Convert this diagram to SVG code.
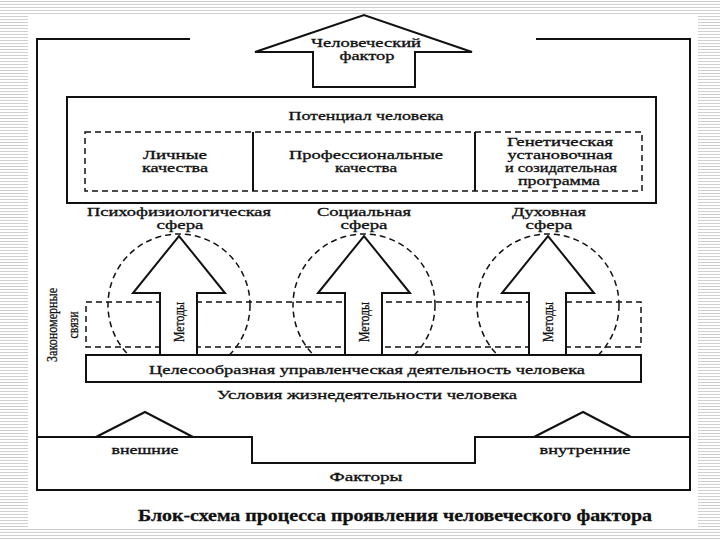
<svg xmlns="http://www.w3.org/2000/svg" width="720" height="540" viewBox="0 0 720 540">
<defs>
<pattern id="bg" width="6" height="3" patternUnits="userSpaceOnUse">
<rect width="6" height="3" fill="#ffffff"/>
<rect y="1" width="6" height="1" fill="#cfcfcf"/>
</pattern>
</defs>
<style>
.t{font-family:"Liberation Serif","Times New Roman",serif;font-size:12px;fill:#111;stroke:#111;stroke-width:0.3;text-anchor:middle;dominant-baseline:central}
.v{font-size:15px}
.b{font-weight:bold;font-size:16px}
.solid{fill:none;stroke:#111;stroke-width:2}
.wf{fill:#fff;stroke:#111;stroke-width:2;stroke-linejoin:miter}
.dash{fill:none;stroke:#111;stroke-width:1.5;stroke-dasharray:6 4}
</style>
<rect width="720" height="540" fill="url(#bg)"/>
<rect x="28" y="15" width="670" height="512" fill="#fff"/>

<g id="frame">
<polyline class="solid" points="190,39 37,39 37,490 690,490 690,39 536,39"/>
<polyline class="solid" points="37,437 252,437 252,463 475,463 475,437 690,437"/>
</g>

<g id="human-factor">
<polygon class="wf" points="313,87 313,52 255,52 364,15 472,52 415,52 415,87"/>
<text class="t" x="366" y="43" textLength="110" lengthAdjust="spacingAndGlyphs">Человеческий</text>
<text class="t" x="367" y="56" textLength="55" lengthAdjust="spacingAndGlyphs">фактор</text>
</g>

<g id="potential">
<rect class="solid" x="67" y="97" width="589" height="106"/>
<text class="t" x="366" y="116" textLength="155" lengthAdjust="spacingAndGlyphs">Потенциал человека</text>
<rect class="dash" x="85" y="132" width="557" height="59"/>
<line class="solid" x1="253" y1="132" x2="253" y2="191"/>
<line class="solid" x1="475" y1="132" x2="475" y2="191"/>
</g>
<g id="personal">
<text class="t" x="175" y="155" textLength="64" lengthAdjust="spacingAndGlyphs">Личные</text>
<text class="t" x="175" y="168" textLength="66" lengthAdjust="spacingAndGlyphs">качества</text>
</g>
<g id="professional">
<text class="t" x="366" y="155" textLength="154" lengthAdjust="spacingAndGlyphs">Профессиональные</text>
<text class="t" x="366" y="168" textLength="62" lengthAdjust="spacingAndGlyphs">качества</text>
</g>
<g id="genetic">
<text class="t" x="560" y="142" textLength="106" lengthAdjust="spacingAndGlyphs">Генетическая</text>
<text class="t" x="560" y="155" textLength="105" lengthAdjust="spacingAndGlyphs">установочная</text>
<text class="t" x="561" y="168" textLength="112" lengthAdjust="spacingAndGlyphs">и созидательная</text>
<text class="t" x="559" y="181" textLength="82" lengthAdjust="spacingAndGlyphs">программа</text>
</g>

<g id="spheres">
<circle class="dash" cx="179" cy="305" r="71"/>
<circle class="dash" cx="364" cy="305" r="71"/>
<circle class="dash" cx="548" cy="305" r="71"/>
<text class="t" x="179" y="212" textLength="184" lengthAdjust="spacingAndGlyphs">Психофизиологическая</text>
<text class="t" x="180" y="225" textLength="47" lengthAdjust="spacingAndGlyphs">сфера</text>
<text class="t" x="364" y="212" textLength="94" lengthAdjust="spacingAndGlyphs">Социальная</text>
<text class="t" x="364" y="225" textLength="47" lengthAdjust="spacingAndGlyphs">сфера</text>
<text class="t" x="549" y="212" textLength="74" lengthAdjust="spacingAndGlyphs">Духовная</text>
<text class="t" x="549" y="225" textLength="47" lengthAdjust="spacingAndGlyphs">сфера</text>
</g>

<g id="regular-links">
<rect class="dash" x="86" y="302" width="555" height="45"/>
<text class="t v" x="52" y="325" transform="rotate(-90 52 325)" textLength="74" lengthAdjust="spacingAndGlyphs">Закономерные</text>
<text class="t v" x="73" y="325" transform="rotate(-90 73 325)" textLength="27" lengthAdjust="spacingAndGlyphs">связи</text>
</g>

<g id="connectors">
<polygon class="wf" points="160,356 160,293 133,293 179,236 225,293 197,293 197,356"/>
<polygon class="wf" points="345,356 345,293 318,293 364,236 410,293 382,293 382,356"/>
<polygon class="wf" points="529,356 529,293 502,293 548,236 594,293 566,293 566,356"/>
<text class="t v" x="179" y="322" transform="rotate(-90 179 322)" textLength="40" lengthAdjust="spacingAndGlyphs">Методы</text>
<text class="t v" x="364" y="322" transform="rotate(-90 364 322)" textLength="40" lengthAdjust="spacingAndGlyphs">Методы</text>
<text class="t v" x="548" y="322" transform="rotate(-90 548 322)" textLength="40" lengthAdjust="spacingAndGlyphs">Методы</text>
</g>

<g id="activity">
<rect class="wf" x="86" y="355" width="555" height="27"/>
<text class="t" x="367" y="370" textLength="436" lengthAdjust="spacingAndGlyphs">Целесообразная управленческая деятельность человека</text>
</g>
<g id="conditions">
<text class="t" x="367" y="395" textLength="300" lengthAdjust="spacingAndGlyphs">Условия жизнедеятельности человека</text>
</g>

<g id="external">
<polyline class="solid" points="96,437 145,412 193,437"/>
<text class="t" x="145" y="450" textLength="67" lengthAdjust="spacingAndGlyphs">внешние</text>
</g>
<g id="internal">
<polyline class="solid" points="534,437 583,412 631,437"/>
<text class="t" x="585" y="450" textLength="91" lengthAdjust="spacingAndGlyphs">внутренние</text>
</g>
<g id="factors">
<text class="t" x="366" y="477" textLength="73" lengthAdjust="spacingAndGlyphs">Факторы</text>
</g>

<text class="t b" x="395" y="515" textLength="514" lengthAdjust="spacingAndGlyphs">Блок-схема процесса проявления человеческого фактора</text>
</svg>
